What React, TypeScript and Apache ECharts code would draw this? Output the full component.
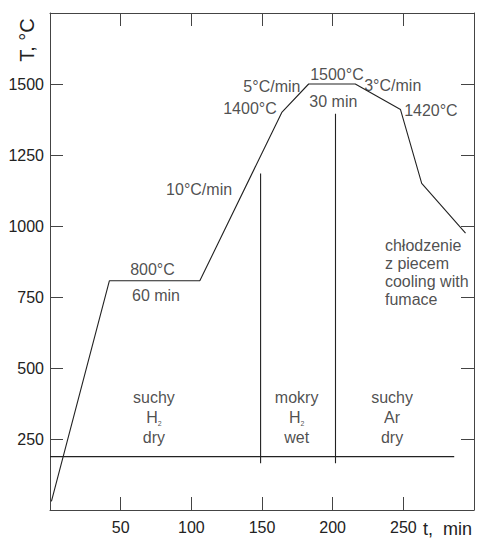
import React, { useEffect, useRef } from "react";
import * as echarts from "echarts";

// Heat-treatment profile (time in min, temperature in °C)
const profileTime = [1, 42, 106, 164, 183, 216, 248, 263, 294];
const profileTemp = [30, 807, 807, 1400, 1500, 1500, 1410, 1150, 975];

// Atmosphere zone boundaries
const boundaryTemp = 188;
const boundaryEndTime = 286;
const dividerTimes = [149, 202];
const dividerTops = [1185, 1395];
const dividerBottom = 165;

// Axis ticks
const xTicks = [50, 100, 150, 200, 250];
const yTicks = [250, 500, 750, 1000, 1250, 1500];

// Annotations: text, time, temperature, alignment
const noteTexts = ["800°C", "60 min", "10°C/min", "1400°C", "5°C/min", "1500°C", "3°C/min", "30 min", "1420°C",
  "chłodzenie\nz piecem\ncooling with\nfumace"];
const noteTimes = [72.5, 75, 105.5, 141.5, 157, 203, 242.5, 200.5, 269.5, 237];
const noteTemps = [848, 754, 1130, 1412, 1490, 1532, 1496, 1437, 1408, 838];
const noteAligns = ["center", "center", "center", "center", "center", "center", "center", "center", "center", "left"];

// Gas zone labels
const zoneTop = ["suchy", "mokry", "suchy"];
const zoneGas = ["{h|H}{s|2}", "{h|H}{s|2}", "Ar"];
const zoneBottom = ["dry", "wet", "dry"];
const zoneTimes = [73.5, 174.5, 242];
const zoneTemp = 327;

const FONT = "'Liberation Sans', Arial, sans-serif";
const INK = "#222";
const FRAME = "#444";

export default function App() {
  const ref = useRef<HTMLDivElement>(null);

  useEffect(() => {
    if (!ref.current) return;
    const chart = echarts.init(ref.current, undefined, { renderer: "svg" });

    const xLabel = (v: number) => (xTicks.includes(v) ? String(v) : "");
    const yLabel = (v: number) => (yTicks.includes(v) ? String(v) : "");

    const axisCommon = {
      type: "value" as const,
      axisLine: { show: true, onZero: false, lineStyle: { color: FRAME, width: 1 } },
      axisTick: { show: true, inside: true, length: 13, lineStyle: { color: FRAME, width: 1 } },
      splitLine: { show: false },
    };

    const lineSeries = (data: number[][]) => ({
      type: "line",
      data,
      symbol: "none",
      silent: true,
      lineStyle: { color: INK, width: 1.1 },
      xAxisIndex: 0,
      yAxisIndex: 0,
    });

    const notes = noteTexts.map((t, i) => ({
      value: [noteTimes[i], noteTemps[i]],
      label: {
        formatter: t,
        align: noteAligns[i],
      },
    }));

    const zones = zoneTimes.map((t, i) => ({
      value: [t, zoneTemp],
      label: {
        formatter: `${zoneTop[i]}\n${zoneGas[i]}\n${zoneBottom[i]}`,
        align: "center",
      },
    }));

    chart.setOption({
      animation: false,
      textStyle: { fontFamily: FONT },
      grid: { left: 50, right: 5, top: 13, bottom: 28, containLabel: false },
      xAxis: [
        {
          ...axisCommon,
          position: "bottom",
          min: 0,
          max: 300,
          interval: 50,
          axisLabel: { show: true, formatter: xLabel, fontSize: 16, color: INK, margin: 9, fontFamily: FONT },
        },
        {
          ...axisCommon,
          position: "top",
          min: 0,
          max: 300,
          interval: 50,
          axisLabel: { show: false },
        },
      ],
      yAxis: [
        {
          ...axisCommon,
          position: "left",
          min: 0,
          max: 1750,
          interval: 250,
          axisLabel: { show: true, formatter: yLabel, fontSize: 16, color: INK, margin: 6, fontFamily: FONT },
        },
        {
          ...axisCommon,
          position: "right",
          min: 0,
          max: 1750,
          interval: 250,
          axisLabel: { show: false },
        },
      ],
      series: [
        lineSeries(profileTime.map((t, i) => [t, profileTemp[i]])),
        lineSeries([[0, boundaryTemp], [boundaryEndTime, boundaryTemp]]),
        ...dividerTimes.map((t, i) => lineSeries([[t, dividerTops[i]], [t, dividerBottom]])),
        {
          type: "scatter",
          symbolSize: 0,
          silent: true,
          xAxisIndex: 0,
          yAxisIndex: 0,
          data: notes,
          label: {
            show: true,
            position: [0, 0],
            verticalAlign: "middle",
            fontSize: 16,
            lineHeight: 18,
            color: INK,
            fontFamily: FONT,
          },
        },
        {
          type: "scatter",
          symbolSize: 0,
          silent: true,
          xAxisIndex: 0,
          yAxisIndex: 0,
          data: zones,
          label: {
            show: true,
            position: [0, 0],
            verticalAlign: "middle",
            fontSize: 16,
            lineHeight: 20,
            color: INK,
            fontFamily: FONT,
            rich: {
              h: { fontSize: 16, lineHeight: 20, color: INK, fontFamily: FONT },
              s: { fontSize: 7, lineHeight: 10, verticalAlign: "bottom", color: INK, fontFamily: FONT },
            },
          },
        },
      ],
      graphic: [
        {
          type: "text",
          x: 27,
          y: 40,
          rotation: Math.PI / 2,
          style: {
            text: "T, °C",
            fontSize: 20,
            fontFamily: FONT,
            fill: INK,
            align: "center",
            verticalAlign: "middle",
          },
        },
        {
          type: "text",
          x: 423,
          y: 529,
          style: {
            text: "t,  min",
            fontSize: 18,
            fontFamily: FONT,
            fill: INK,
            align: "left",
            verticalAlign: "middle",
          },
        },
      ],
    });

    return () => chart.dispose();
  }, []);

  return (
    <div
      ref={ref}
      style={{ position: "fixed", left: 0, top: 0, width: 479, height: 538, background: "#fff" }}
    />
  );
}
